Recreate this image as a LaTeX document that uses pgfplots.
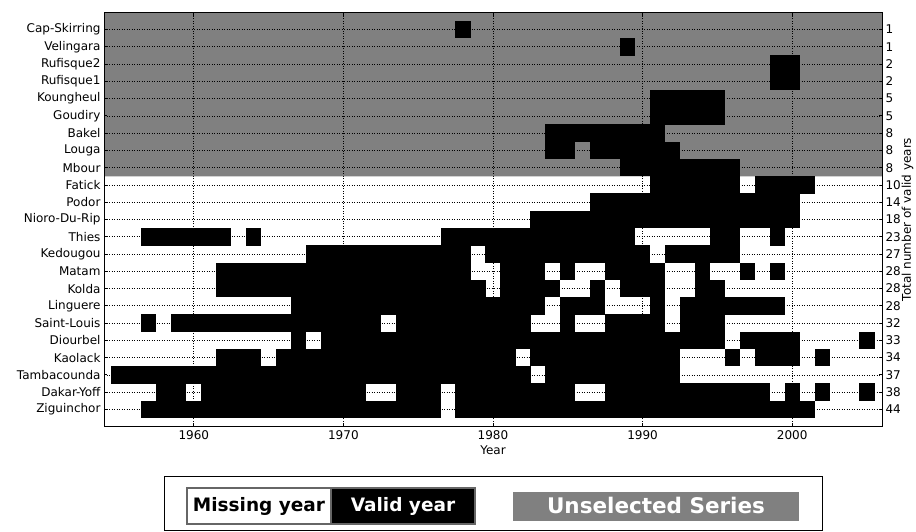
\documentclass[border=0pt]{standalone}
\usepackage{fontspec}
\setmainfont{DejaVu Sans}
\usepackage{pgfplots}
\pgfplotsset{compat=1.18}
\definecolor{bg}{gray}{0.5}
\definecolor{legbd}{gray}{0.4}
\pgfdeclareplotmark{cell}{\pgfpathrectangle{\pgfqpoint{-7.58pt}{-8.74pt}}{\pgfqpoint{15.16pt}{17.48pt}}\pgfusepathqfill}
\pgfplotsset{cells/.style={only marks, mark=cell, black}}
\newcommand{\tf}{\fontsize{12}{14}\selectfont}
\begin{document}
\begin{tikzpicture}
\begin{axis}[
  set layers,
  at={(104pt,105.3pt)}, anchor=south west,
  scale only axis, width=778pt, height=414.4pt,
  xmin=1954, xmax=2006, ymin=-1, ymax=23,
  xtick={1960,1970,1980,1990,2000},
  ytick={0,...,22},
  yticklabels={Ziguinchor,Dakar-Yoff,Tambacounda,Kaolack,Diourbel,Saint-Louis,Linguere,Kolda,Matam,Kedougou,Thies,Nioro-Du-Rip,Podor,Fatick,Mbour,Louga,Bakel,Goudiry,Koungheul,Rufisque1,Rufisque2,Velingara,Cap-Skirring},
  tick align=inside, tick pos=both,
  major tick length=3.5pt,
  tick style={black, line width=0.8pt},
  grid=major,
  major grid style={black, line width=0.7pt, dash pattern=on 0.9pt off 1.6pt},
  axis line style={line width=1pt},
  ticklabel style={font=\tf},
  /pgf/number format/assume math mode=true,
  /pgf/number format/1000 sep={},
  xlabel={Year},
  xlabel style={font=\tf},
]
\addplot[on layer=axis background, fill=bg, draw=none] coordinates {(1954,13.5) (2006,13.5) (2006,23) (1954,23) (1954,13.5)};
% 0 Ziguinchor
\addplot[cells] table[x=x, y expr=0, row sep=\\]{x\\1957\\1958\\1959\\1960\\1961\\1962\\1963\\1964\\1965\\1966\\1967\\1968\\1969\\1970\\1971\\1972\\1973\\1974\\1975\\1976\\1978\\1979\\1980\\1981\\1982\\1983\\1984\\1985\\1986\\1987\\1988\\1989\\1990\\1991\\1992\\1993\\1994\\1995\\1996\\1997\\1998\\1999\\2000\\2001\\};
% 1 Dakar-Yoff
\addplot[cells] table[x=x, y expr=1, row sep=\\]{x\\1958\\1959\\1961\\1962\\1963\\1964\\1965\\1966\\1967\\1968\\1969\\1970\\1971\\1974\\1975\\1976\\1978\\1979\\1980\\1981\\1982\\1983\\1984\\1985\\1988\\1989\\1990\\1991\\1992\\1993\\1994\\1995\\1996\\1997\\1998\\2000\\2002\\2005\\};
% 2 Tambacounda
\addplot[cells] table[x=x, y expr=2, row sep=\\]{x\\1955\\1956\\1957\\1958\\1959\\1960\\1961\\1962\\1963\\1964\\1965\\1966\\1967\\1968\\1969\\1970\\1971\\1972\\1973\\1974\\1975\\1976\\1977\\1978\\1979\\1980\\1981\\1982\\1984\\1985\\1986\\1987\\1988\\1989\\1990\\1991\\1992\\};
% 3 Kaolack
\addplot[cells] table[x=x, y expr=3, row sep=\\]{x\\1962\\1963\\1964\\1966\\1967\\1968\\1969\\1970\\1971\\1972\\1973\\1974\\1975\\1976\\1977\\1978\\1979\\1980\\1981\\1983\\1984\\1985\\1986\\1987\\1988\\1989\\1990\\1991\\1992\\1996\\1998\\1999\\2000\\2002\\};
% 4 Diourbel
\addplot[cells] table[x=x, y expr=4, row sep=\\]{x\\1967\\1969\\1970\\1971\\1972\\1973\\1974\\1975\\1976\\1977\\1978\\1979\\1980\\1981\\1982\\1983\\1984\\1985\\1986\\1987\\1988\\1989\\1990\\1991\\1992\\1993\\1994\\1995\\1997\\1998\\1999\\2000\\2005\\};
% 5 Saint-Louis
\addplot[cells] table[x=x, y expr=5, row sep=\\]{x\\1957\\1959\\1960\\1961\\1962\\1963\\1964\\1965\\1966\\1967\\1968\\1969\\1970\\1971\\1972\\1974\\1975\\1976\\1977\\1978\\1979\\1980\\1981\\1982\\1985\\1988\\1989\\1990\\1991\\1993\\1994\\1995\\};
% 6 Linguere
\addplot[cells] table[x=x, y expr=6, row sep=\\]{x\\1967\\1968\\1969\\1970\\1971\\1972\\1973\\1974\\1975\\1976\\1977\\1978\\1979\\1980\\1981\\1982\\1983\\1985\\1986\\1987\\1991\\1993\\1994\\1995\\1996\\1997\\1998\\1999\\};
% 7 Kolda
\addplot[cells] table[x=x, y expr=7, row sep=\\]{x\\1962\\1963\\1964\\1965\\1966\\1967\\1968\\1969\\1970\\1971\\1972\\1973\\1974\\1975\\1976\\1977\\1978\\1979\\1981\\1982\\1983\\1984\\1987\\1989\\1990\\1991\\1994\\1995\\};
% 8 Matam
\addplot[cells] table[x=x, y expr=8, row sep=\\]{x\\1962\\1963\\1964\\1965\\1966\\1967\\1968\\1969\\1970\\1971\\1972\\1973\\1974\\1975\\1976\\1977\\1978\\1981\\1982\\1983\\1985\\1988\\1989\\1990\\1991\\1994\\1997\\1999\\};
% 9 Kedougou
\addplot[cells] table[x=x, y expr=9, row sep=\\]{x\\1968\\1969\\1970\\1971\\1972\\1973\\1974\\1975\\1976\\1977\\1978\\1980\\1981\\1982\\1983\\1984\\1985\\1986\\1987\\1988\\1989\\1990\\1992\\1993\\1994\\1995\\1996\\};
% 10 Thies
\addplot[cells] table[x=x, y expr=10, row sep=\\]{x\\1957\\1958\\1959\\1960\\1961\\1962\\1964\\1977\\1978\\1979\\1980\\1981\\1982\\1983\\1984\\1985\\1986\\1987\\1988\\1989\\1995\\1996\\1999\\};
% 11 Nioro-Du-Rip
\addplot[cells] table[x=x, y expr=11, row sep=\\]{x\\1983\\1984\\1985\\1986\\1987\\1988\\1989\\1990\\1991\\1992\\1993\\1994\\1995\\1996\\1997\\1998\\1999\\2000\\};
% 12 Podor
\addplot[cells] table[x=x, y expr=12, row sep=\\]{x\\1987\\1988\\1989\\1990\\1991\\1992\\1993\\1994\\1995\\1996\\1997\\1998\\1999\\2000\\};
% 13 Fatick
\addplot[cells] table[x=x, y expr=13, row sep=\\]{x\\1991\\1992\\1993\\1994\\1995\\1996\\1998\\1999\\2000\\2001\\};
% 14 Mbour
\addplot[cells] table[x=x, y expr=14, row sep=\\]{x\\1989\\1990\\1991\\1992\\1993\\1994\\1995\\1996\\};
% 15 Louga
\addplot[cells] table[x=x, y expr=15, row sep=\\]{x\\1984\\1985\\1987\\1988\\1989\\1990\\1991\\1992\\};
% 16 Bakel
\addplot[cells] table[x=x, y expr=16, row sep=\\]{x\\1984\\1985\\1986\\1987\\1988\\1989\\1990\\1991\\};
% 17 Goudiry
\addplot[cells] table[x=x, y expr=17, row sep=\\]{x\\1991\\1992\\1993\\1994\\1995\\};
% 18 Koungheul
\addplot[cells] table[x=x, y expr=18, row sep=\\]{x\\1991\\1992\\1993\\1994\\1995\\};
% 19 Rufisque1
\addplot[cells] table[x=x, y expr=19, row sep=\\]{x\\1999\\2000\\};
% 20 Rufisque2
\addplot[cells] table[x=x, y expr=20, row sep=\\]{x\\1999\\2000\\};
% 21 Velingara
\addplot[cells] table[x=x, y expr=21, row sep=\\]{x\\1989\\};
% 22 Cap-Skirring
\addplot[cells] table[x=x, y expr=22, row sep=\\]{x\\1978\\};
\end{axis}
\begin{axis}[
  at={(104pt,105.3pt)}, anchor=south west,
  scale only axis, width=778pt, height=414.4pt,
  xmin=1954, xmax=2006, ymin=-1, ymax=23,
  axis x line=none,
  axis y line*=right,
  axis line style={line width=1pt, -},
  ytick={0,...,22},
  yticklabels={44,38,37,34,33,32,28,28,28,27,23,18,14,10,8,8,8,5,5,2,2,1,1},
  tick style={draw=none},
  ticklabel style={font=\tf},
  ylabel={Total number of valid years},
  every axis y label/.style={at={(axis description cs:1.0328,0.5)}, rotate=90, anchor=center, inner sep=0pt, font=\tf},
]
\addplot[draw=none, mark=none] coordinates {(1960,0) (2000,22)};
\end{axis}
% legend
\draw[black, line width=0.8pt] (164pt,1.5pt) rectangle (822pt,56pt);
\draw[fill=white, draw=legbd, line width=1.5pt] (187pt,8pt) rectangle (331pt,44pt);
\draw[fill=black, draw=legbd, line width=1.5pt] (331pt,8pt) rectangle (475pt,44pt);
\node[anchor=base, inner sep=0pt, font=\fontsize{18.5}{20}\selectfont\bfseries] at (259pt,20.3pt) {Missing year};
\node[anchor=base, inner sep=0pt, text=white, font=\fontsize{18.5}{20}\selectfont\bfseries] at (403pt,20.3pt) {Valid year};
\fill[bg] (513pt,11pt) rectangle (799pt,40pt);
\node[anchor=base, inner sep=0pt, text=white, font=\fontsize{21.5}{24}\selectfont\bfseries] at (656pt,18.7pt) {Unselected Series};
\pgfresetboundingbox
\useasboundingbox (0pt,0pt) rectangle (916pt,532pt);
\end{tikzpicture}
\end{document}
